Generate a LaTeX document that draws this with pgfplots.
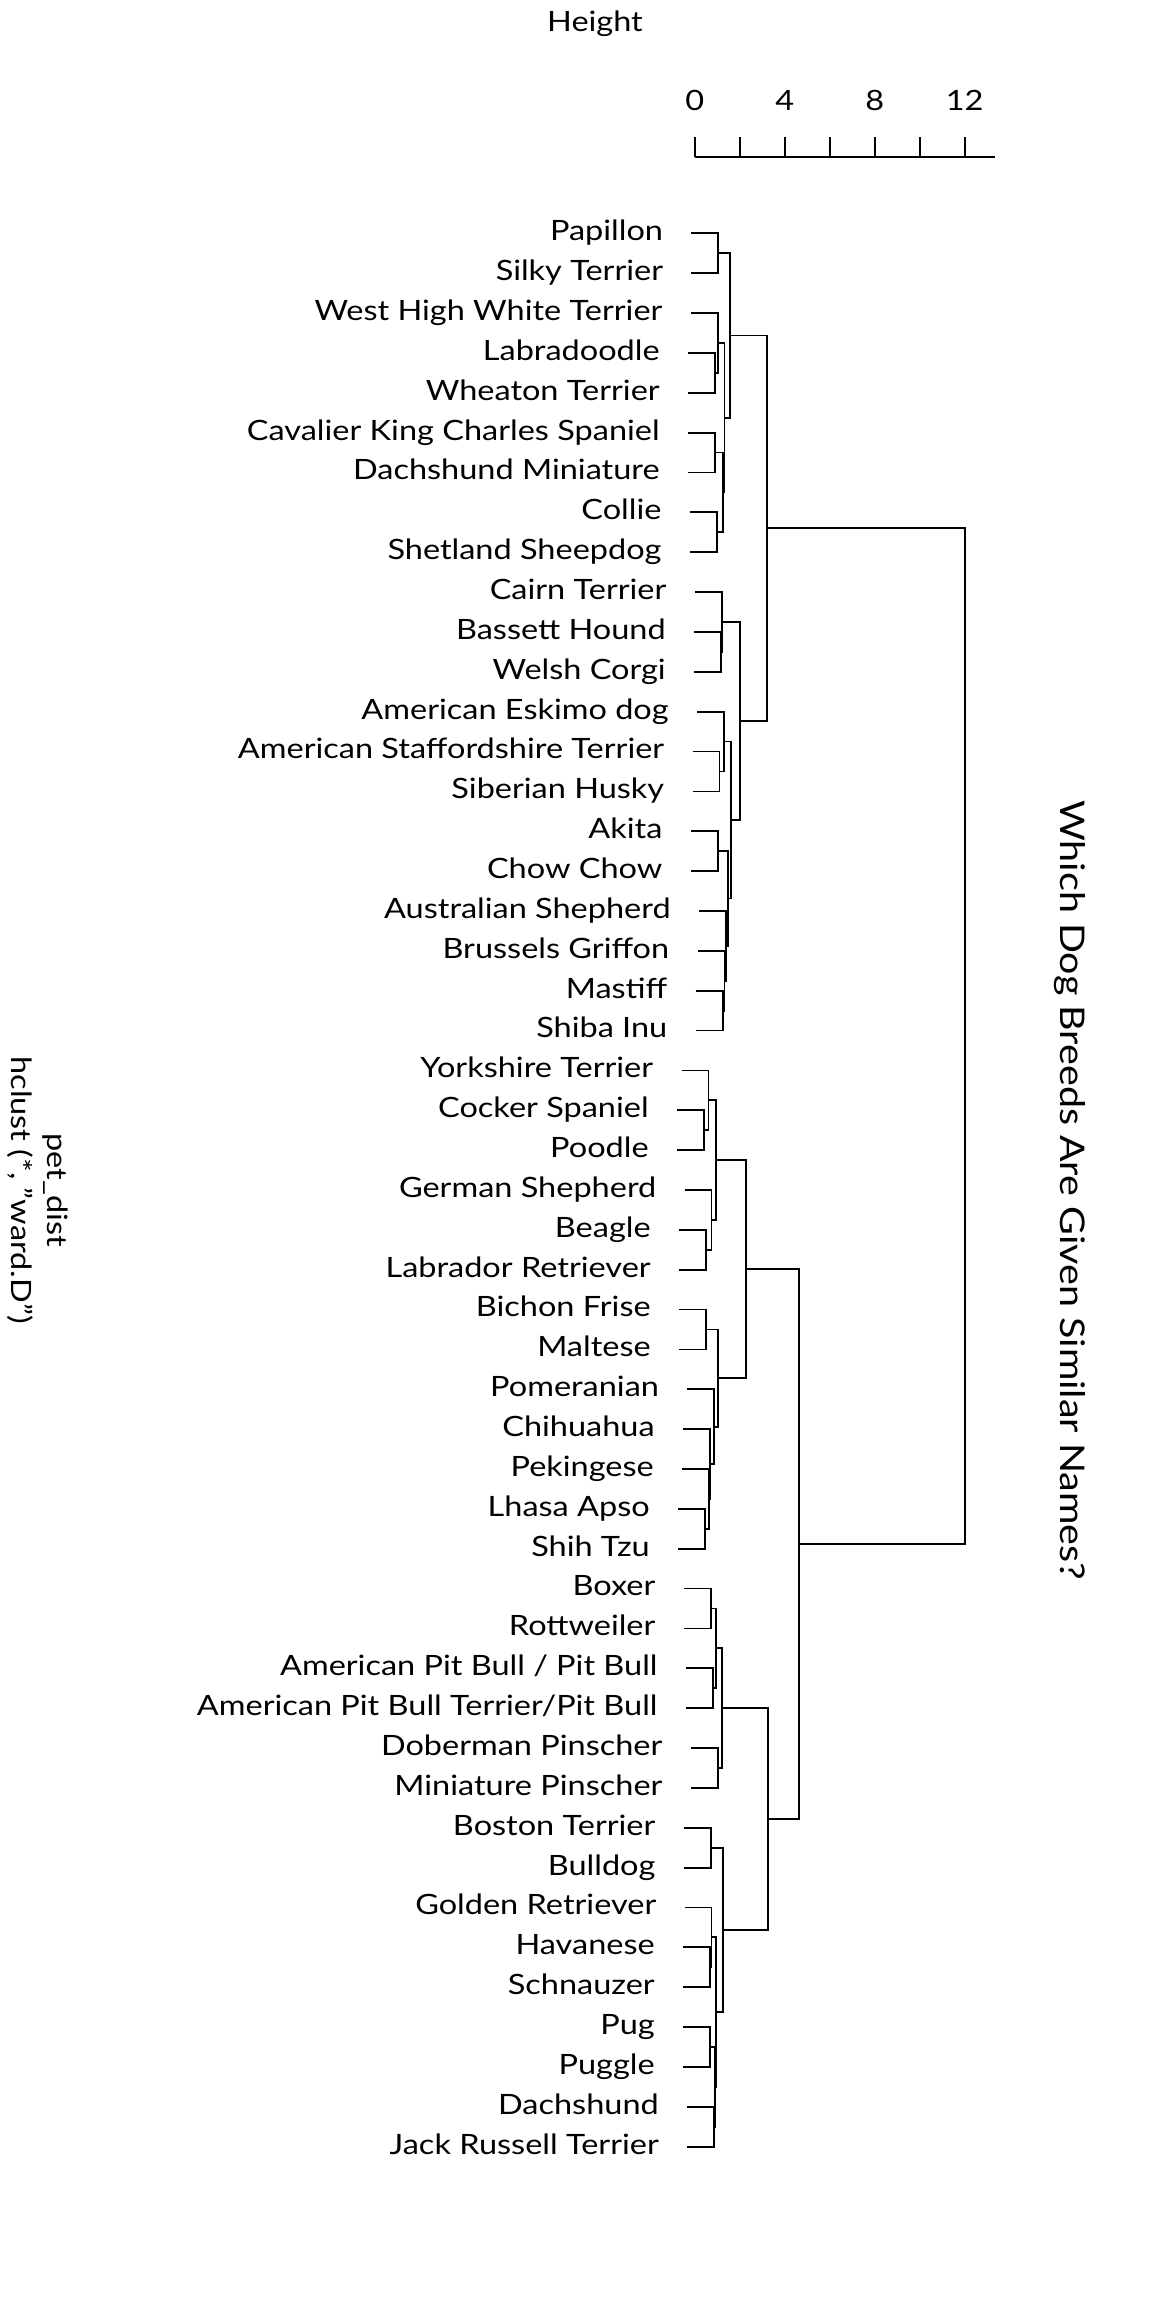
\documentclass[border=0pt]{standalone}
\usepackage{pgfplots}
\pgfplotsset{compat=1.18}
\usepackage{pgfplotstable}
\usepackage{fontspec}
\setmainfont[FakeStretch=1.16]{Lato}
\newcommand{\lblfont}{\fontsize{14}{16}\selectfont}
\newcommand{\ttlfont}{\fontsize{17}{20}\selectfont}
\newcommand{\dq}{\char34\relax}

\pgfplotstableread[col sep=comma]{
x,y,label
-0.145,0,Papillon
-0.145,1,Silky Terrier
-0.175,2,West High White Terrier
-0.295,3,Labradoodle
-0.295,4,Wheaton Terrier
-0.295,5,Cavalier King Charles Spaniel
-0.295,6,Dachshund Miniature
-0.215,7,Collie
-0.215,8,Shetland Sheepdog
0.005,9,Cairn Terrier
-0.025,10,Bassett Hound
-0.025,11,Welsh Corgi
0.105,12,American Eskimo dog
-0.095,13,American Staffordshire Terrier
-0.095,14,Siberian Husky
-0.175,15,Akita
-0.175,16,Chow Chow
0.195,17,Australian Shepherd
0.125,18,Brussels Griffon
0.045,19,Mastiff
0.045,20,Shiba Inu
-0.585,21,Yorkshire Terrier
-0.785,22,Cocker Spaniel
-0.785,23,Poodle
-0.445,24,German Shepherd
-0.695,25,Beagle
-0.695,26,Labrador Retriever
-0.695,27,Bichon Frise
-0.695,28,Maltese
-0.325,29,Pomeranian
-0.515,30,Chihuahua
-0.555,31,Pekingese
-0.735,32,Lhasa Apso
-0.735,33,Shih Tzu
-0.485,34,Boxer
-0.485,35,Rottweiler
-0.395,36,American Pit Bull / Pit Bull
-0.395,37,American Pit Bull Terrier/Pit Bull
-0.175,38,Doberman Pinscher
-0.175,39,Miniature Pinscher
-0.485,40,Boston Terrier
-0.485,41,Bulldog
-0.445,42,Golden Retriever
-0.515,43,Havanese
-0.515,44,Schnauzer
-0.515,45,Pug
-0.515,46,Puggle
-0.335,47,Dachshund
-0.335,48,Jack Russell Terrier
}\leaves

\begin{document}
\begin{tikzpicture}
\path[use as bounding box] (0,0) rectangle (576pt,1152pt);
\begin{axis}[
  at={(0,0)}, anchor=south west,
  scale only axis, width=576pt, height=1152pt,
  xmin=-30.876, xmax=20.324,
  ymin=-5.853, ymax=51.949,
  y dir=reverse,
  hide axis, clip=false,
  unbounded coords=jump,
]
% dendrogram links
\addplot[black, line width=0.9pt, mark=none] coordinates {
(-0.145,0) (1.05,0) (1.05,1) (-0.145,1) (nan,nan)
(-0.295,3) (0.90,3) (0.90,4) (-0.295,4) (nan,nan)
(-0.175,2) (1.02,2) (1.02,3.5) (0.90,3.5) (nan,nan)
(-0.295,5) (0.90,5) (0.90,6) (-0.295,6) (nan,nan)
(-0.215,7) (0.98,7) (0.98,8) (-0.215,8) (nan,nan)
(0.90,5.5) (1.25,5.5) (1.25,7.5) (0.98,7.5) (nan,nan)
(1.02,2.75) (1.32,2.75) (1.32,6.5) (1.25,6.5) (nan,nan)
(1.05,0.5) (1.57,0.5) (1.57,4.625) (1.32,4.625) (nan,nan)
(-0.025,10) (1.17,10) (1.17,11) (-0.025,11) (nan,nan)
(0.005,9) (1.20,9) (1.20,10.5) (1.17,10.5) (nan,nan)
(-0.095,13) (1.10,13) (1.10,14) (-0.095,14) (nan,nan)
(0.105,12) (1.30,12) (1.30,13.5) (1.10,13.5) (nan,nan)
(-0.175,15) (1.02,15) (1.02,16) (-0.175,16) (nan,nan)
(0.045,19) (1.24,19) (1.24,20) (0.045,20) (nan,nan)
(0.125,18) (1.32,18) (1.32,19.5) (1.24,19.5) (nan,nan)
(0.195,17) (1.39,17) (1.39,18.75) (1.32,18.75) (nan,nan)
(1.02,15.5) (1.465,15.5) (1.465,17.875) (1.39,17.875) (nan,nan)
(1.30,12.75) (1.60,12.75) (1.60,16.6875) (1.465,16.6875) (nan,nan)
(1.20,9.75) (2.01,9.75) (2.01,14.71875) (1.60,14.71875) (nan,nan)
(1.57,2.5625) (3.23,2.5625) (3.23,12.234375) (2.01,12.234375) (nan,nan)
(-0.785,22) (0.41,22) (0.41,23) (-0.785,23) (nan,nan)
(-0.585,21) (0.61,21) (0.61,22.5) (0.41,22.5) (nan,nan)
(-0.695,25) (0.50,25) (0.50,26) (-0.695,26) (nan,nan)
(-0.445,24) (0.75,24) (0.75,25.5) (0.50,25.5) (nan,nan)
(0.61,21.75) (0.95,21.75) (0.95,24.75) (0.75,24.75) (nan,nan)
(-0.695,27) (0.50,27) (0.50,28) (-0.695,28) (nan,nan)
(-0.735,32) (0.46,32) (0.46,33) (-0.735,33) (nan,nan)
(-0.555,31) (0.64,31) (0.64,32.5) (0.46,32.5) (nan,nan)
(-0.515,30) (0.68,30) (0.68,31.75) (0.64,31.75) (nan,nan)
(-0.325,29) (0.87,29) (0.87,30.875) (0.68,30.875) (nan,nan)
(0.50,27.5) (1.05,27.5) (1.05,29.9375) (0.87,29.9375) (nan,nan)
(0.95,23.25) (2.28,23.25) (2.28,28.71875) (1.05,28.71875) (nan,nan)
(-0.485,34) (0.71,34) (0.71,35) (-0.485,35) (nan,nan)
(-0.395,36) (0.80,36) (0.80,37) (-0.395,37) (nan,nan)
(0.71,34.5) (0.93,34.5) (0.93,36.5) (0.80,36.5) (nan,nan)
(-0.175,38) (1.02,38) (1.02,39) (-0.175,39) (nan,nan)
(0.93,35.5) (1.20,35.5) (1.20,38.5) (1.02,38.5) (nan,nan)
(-0.485,40) (0.71,40) (0.71,41) (-0.485,41) (nan,nan)
(-0.515,43) (0.68,43) (0.68,44) (-0.515,44) (nan,nan)
(-0.445,42) (0.75,42) (0.75,43.5) (0.68,43.5) (nan,nan)
(-0.515,45) (0.68,45) (0.68,46) (-0.515,46) (nan,nan)
(-0.335,47) (0.86,47) (0.86,48) (-0.335,48) (nan,nan)
(0.68,45.5) (0.90,45.5) (0.90,47.5) (0.86,47.5) (nan,nan)
(0.75,42.75) (0.93,42.75) (0.93,46.5) (0.90,46.5) (nan,nan)
(0.71,40.5) (1.24,40.5) (1.24,44.625) (0.93,44.625) (nan,nan)
(1.20,37) (3.27,37) (3.27,42.5625) (1.24,42.5625) (nan,nan)
(2.28,25.984375) (4.65,25.984375) (4.65,39.78125) (3.27,39.78125) (nan,nan)
(3.23,7.3984375) (12.0,7.3984375) (12.0,32.8828125) (4.65,32.8828125)
};
% leaf labels
\addplot[draw=none, mark=none, nodes near coords, point meta=explicit symbolic,
  every node near coord/.style={anchor=base east, inner sep=0pt, xshift=-14pt, yshift=-3.7pt, font=\lblfont, text=black}]
  table[x=x, y=y, meta=label] {\leaves};
% height scale
\draw[black, line width=0.9pt] (axis cs:0,-1.922) -- (axis cs:13.36,-1.922);
\pgfplotsinvokeforeach{0,2,4,6,8,10,12}{
  \draw[black, line width=0.9pt] (axis cs:#1,-1.922) -- (axis cs:#1,-2.424);
}
\pgfplotsinvokeforeach{0,4,8,12}{
  \node[font=\lblfont, inner sep=0pt] at (axis cs:#1,-3.344) {#1};
}
\node[font=\lblfont, inner sep=0pt] at (axis cs:-4.431,-5.264) {Height};
% title
\node[font=\ttlfont, rotate=-90, inner sep=0pt] at (axis cs:16.68,24.0) {Which Dog Breeds Are Given Similar Names?};
% sub titles
\node[font=\lblfont, rotate=-90, inner sep=0pt] at (axis cs:-28.40,24.0) {pet\_dist};
\node[font=\lblfont, rotate=-90, inner sep=0pt] at (axis cs:-29.96,24.0) {hclust (*, \dq ward.D\dq)};
\end{axis}
\end{tikzpicture}
\end{document}
